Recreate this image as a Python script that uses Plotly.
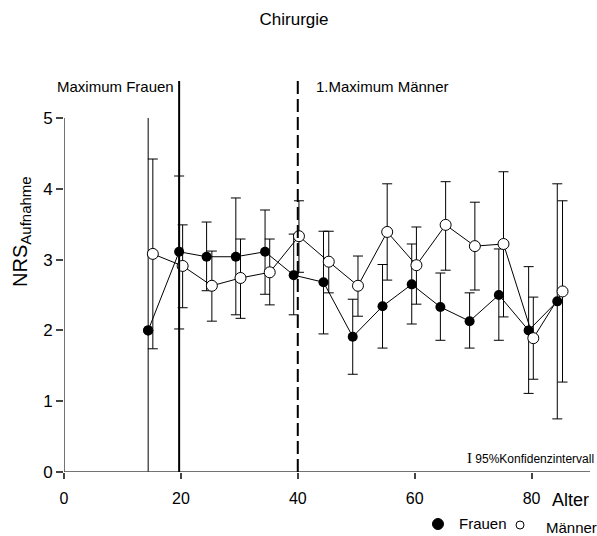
import plotly.graph_objects as go
import numpy as np

# ---- data ----
women_age = [14.4, 19.7, 24.4, 29.4, 34.4, 39.3, 44.4, 49.4, 54.5, 59.5, 64.4, 69.4, 74.4, 79.5, 84.4]
women_nrs = [2.00, 3.11, 3.04, 3.04, 3.11, 2.78, 2.68, 1.91, 2.34, 2.65, 2.33, 2.13, 2.50, 2.00, 2.41]
women_hi  = [5.00, 4.18, 3.53, 3.87, 3.70, 3.36, 3.40, 2.44, 2.93, 3.22, 2.81, 2.53, 3.15, 2.90, 4.07]
women_lo  = [0.00, 2.02, 2.56, 2.22, 2.51, 2.22, 1.95, 1.38, 1.75, 2.09, 1.86, 1.75, 1.86, 1.11, 0.75]

men_age = [15.2, 20.3, 25.3, 30.2, 35.2, 40.2, 45.3, 50.3, 55.3, 60.3, 65.3, 70.3, 75.2, 80.3, 85.3]
men_nrs = [3.08, 2.91, 2.63, 2.74, 2.82, 3.33, 2.97, 2.63, 3.39, 2.92, 3.49, 3.19, 3.22, 1.89, 2.55]
men_hi  = [4.42, 3.49, 3.12, 3.29, 3.29, 3.83, 3.40, 3.05, 4.07, 3.46, 4.10, 3.81, 4.24, 2.47, 3.83]
men_lo  = [1.74, 2.32, 2.13, 2.17, 2.36, 2.82, 2.53, 2.20, 2.71, 2.37, 2.85, 2.57, 2.19, 1.31, 1.27]

x_ticks = [0, 20, 40, 60, 80]
y_ticks = [0, 1, 2, 3, 4, 5]
max_frauen_age = 19.7
max_maenner_age = 40.0

FONT = "Liberation Sans, Arial, sans-serif"

def err(v, hi, lo):
    v, hi, lo = np.array(v), np.array(hi), np.array(lo)
    return (hi - v).tolist(), (v - lo).tolist()

wp, wm = err(women_nrs, women_hi, women_lo)
mp, mm = err(men_nrs, men_hi, men_lo)

fig = go.Figure()
# first women's interval (full range, drawn without caps)
fig.add_trace(go.Scatter(
    x=women_age[:1], y=women_nrs[:1], mode="markers",
    marker=dict(size=10, color="black"),
    error_y=dict(type="data", symmetric=False, array=wp[:1], arrayminus=wm[:1],
                 color="black", thickness=1, width=0),
    cliponaxis=False, showlegend=False))
fig.add_trace(go.Scatter(
    x=women_age, y=women_nrs, mode="lines+markers", name="Frauen",
    line=dict(color="black", width=1),
    marker=dict(symbol="circle", size=10, color="black"),
    error_y=dict(type="data", symmetric=False, array=[None] + wp[1:], arrayminus=[None] + wm[1:],
                 color="black", thickness=1, width=5),
    cliponaxis=False, showlegend=False))
fig.add_trace(go.Scatter(
    x=men_age, y=men_nrs, mode="lines+markers", name="Männer",
    line=dict(color="black", width=1),
    marker=dict(symbol="circle", size=11, color="white", line=dict(color="black", width=1)),
    error_y=dict(type="data", symmetric=False, array=mp, arrayminus=mm,
                 color="black", thickness=1, width=5),
    cliponaxis=False, showlegend=False))

shapes = [
    # axis lines
    dict(type="line", xref="x", yref="y", x0=0, x1=90, y0=0, y1=0, line=dict(color="#444", width=1.5)),
    dict(type="line", xref="x", yref="y", x0=0, x1=0, y0=0, y1=5, line=dict(color="#444", width=1.5)),
    # maximum lines
    dict(type="line", xref="x", yref="y", x0=max_frauen_age, x1=max_frauen_age, y0=0, y1=5.52,
         line=dict(color="black", width=2)),
    dict(type="line", xref="x", yref="y", x0=max_maenner_age, x1=max_maenner_age, y0=0, y1=5.52,
         line=dict(color="black", width=2, dash="13px,5px")),
    # legend symbols
    dict(type="circle", xref="paper", yref="paper", xsizemode="pixel", ysizemode="pixel",
         xanchor=0.711, yanchor=-0.1323, x0=-5.5, x1=5.5, y0=-5.5, y1=5.5,
         fillcolor="black", line=dict(color="black", width=1)),
    dict(type="circle", xref="paper", yref="paper", xsizemode="pixel", ysizemode="pixel",
         xanchor=0.867, yanchor=-0.1349, x0=-4, x1=4, y0=-4, y1=4,
         fillcolor="white", line=dict(color="black", width=1)),
]

annotations = [
    dict(text="Maximum Frauen", xref="paper", yref="paper", x=0.097, y=0.982,
         xanchor="center", yanchor="middle", showarrow=False, font=dict(size=15, family=FONT)),
    dict(text="1.Maximum Männer", xref="paper", yref="paper", x=0.6055, y=0.982,
         xanchor="center", yanchor="middle", showarrow=False, font=dict(size=15, family=FONT)),
    dict(text="Alter", xref="paper", yref="paper", x=0.963, y=-0.0712,
         xanchor="center", yanchor="middle", showarrow=False, font=dict(size=18, family=FONT)),
    dict(text="<span style='font-family:Liberation Serif;font-size:15px'>I</span> 95%Konfidenzintervall",
         xref="paper", yref="paper", x=1.0114, y=0.0356,
         xanchor="right", yanchor="middle", showarrow=False, font=dict(size=12, family=FONT)),
    dict(text="Frauen", xref="paper", yref="paper", x=0.7966, y=-0.1323,
         xanchor="center", yanchor="middle", showarrow=False, font=dict(size=15, family=FONT)),
    dict(text="Männer", xref="paper", yref="paper", x=0.9639, y=-0.140,
         xanchor="center", yanchor="middle", showarrow=False, font=dict(size=15, family=FONT)),
    dict(text="NRS<sub><span style='font-size:15px'>Aufnahme</span></sub>",
         xref="paper", yref="paper", x=-0.0798, y=0.611, textangle=-90,
         xanchor="center", yanchor="middle", showarrow=False, font=dict(size=20, family=FONT)),
]

fig.update_layout(
    width=597, height=536,
    margin=dict(l=64, r=7, t=79, b=64),
    paper_bgcolor="white", plot_bgcolor="white",
    font=dict(family=FONT, color="black"),
    title=dict(text="Chirurgie", x=0.4925, y=0.9646, xanchor="center", yanchor="middle",
               xref="container", yref="container", font=dict(size=17, family=FONT, color="black")),
    shapes=shapes, annotations=annotations,
)
fig.update_xaxes(range=[0, 90], tickvals=x_ticks, ticks="outside", ticklen=6, tickcolor="#444",
                 tickwidth=1.5, showline=False, showgrid=False, zeroline=False,
                 tickfont=dict(size=16, family=FONT), ticklabelstandoff=6)
fig.update_yaxes(range=[0, 5.55], tickvals=y_ticks, ticks="outside", ticklen=7, tickcolor="#444",
                 tickwidth=1.5, showline=False, showgrid=False, zeroline=False,
                 tickfont=dict(size=17, family=FONT))

fig.write_html("out.html")
